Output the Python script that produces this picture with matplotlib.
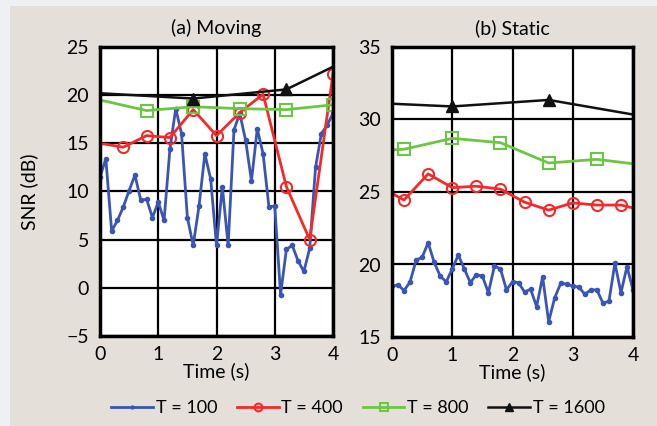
import numpy as np
import matplotlib
matplotlib.use("Agg")
import matplotlib.pyplot as plt
from matplotlib.patches import Rectangle

plt.rcParams['font.family'] = ['Lato', 'DejaVu Sans']

# ---- data ----
t100 = np.round(np.arange(41) * 0.1, 2)

moving_100 = [11.5, 13.4, 5.9, 7.0, 8.4, 10.1, 11.7, 9.1, 9.2, 7.3,
              8.9, 7.0, 14.4, 18.6, 16.0, 7.3, 4.4, 8.5, 13.9, 11.3,
              4.4, 10.5, 4.4, 16.4, 18.1, 15.3, 11.1, 16.5, 13.9, 8.4,
              8.5, -0.7, 4.0, 4.4, 2.8, 1.7, 4.1, 12.5, 16.0, 16.9, 18.1]
moving_400_t = [0, 0.4, 0.8, 1.2, 1.6, 2.0, 2.4, 2.8, 3.2, 3.6, 4.0]
moving_400 = [15.0, 14.6, 15.8, 15.6, 18.5, 15.8, 18.2, 20.1, 10.5, 5.0, 22.2]
moving_800_t = [0, 0.8, 1.6, 2.4, 3.2, 4.0]
moving_800 = [19.5, 18.4, 18.8, 18.6, 18.5, 19.0]
moving_1600_t = [0, 1.6, 3.2, 4.8]
moving_1600 = [20.2, 19.65, 20.6, 25.3]

static_100 = [18.5, 18.6, 18.2, 18.8, 20.3, 20.5, 21.5, 20.15, 19.2, 18.8,
              19.7, 20.65, 19.7, 18.75, 19.3, 19.2, 18.05, 19.9, 19.7, 18.25,
              18.8, 18.75, 18.1, 18.3, 17.1, 19.15, 16.05, 17.7, 18.7, 18.65,
              18.5, 18.45, 17.95, 18.25, 18.25, 17.35, 17.45, 20.1, 18.05, 19.85, 18.25]
static_400_t = [-0.2, 0.2, 0.6, 1.0, 1.4, 1.8, 2.2, 2.6, 3.0, 3.4, 3.8, 4.2]
static_400 = [25.35, 24.45, 26.25, 25.3, 25.4, 25.2, 24.3, 23.75, 24.25, 24.1, 24.1, 23.7]
static_800_t = [-0.6, 0.2, 1.0, 1.8, 2.6, 3.4, 4.2]
static_800 = [27.75, 27.95, 28.7, 28.4, 27.0, 27.25, 26.85]
static_1600_t = [-0.6, 1.0, 2.6, 4.2]
static_1600 = [31.2, 30.9, 31.35, 30.2]

labels = ["T = 100", "T = 400", "T = 800", "T = 1600"]
colors = ["#3a55b4", "#f42a2a", "#6cc644", "#111111"]

fig = plt.figure(figsize=(6.57, 4.26), dpi=100, facecolor="#eef0f3")
bg = Rectangle((10 / 657, 0), 1, 1 - 6 / 426, transform=fig.transFigure,
               facecolor="#e4e0d9", edgecolor="none", zorder=-10)
fig.add_artist(bg)

ax1 = fig.add_axes([100 / 657, 90 / 426, 233 / 657, 289 / 426])
ax2 = fig.add_axes([392 / 657, 89 / 426, 241 / 657, 290 / 426])


def draw(ax, s100, t400, s400, t800, s800, t1600, s1600):
    # first point of the sparse series sits on/left of the axis: no marker
    skip = slice(1, None)
    h = []
    h += ax.plot(t100, s100, color=colors[0], lw=2, marker="o", ms=3,
                 label=labels[0])
    h += ax.plot(t400, s400, color=colors[1], lw=2, marker="o", ms=8,
                 mfc="none", mew=1.5, markevery=skip, label=labels[1])
    h += ax.plot(t800, s800, color=colors[2], lw=2, marker="s", ms=8,
                 mfc="none", mew=1.5, markevery=skip, label=labels[2])
    h += ax.plot(t1600, s1600, color=colors[3], lw=1.8, marker="^", ms=8,
                 markevery=skip, label=labels[3])
    ax.set_xlim(0, 4)
    ax.set_xticks([0, 1, 2, 3, 4])
    ax.grid(True, color="black", lw=1.6)
    ax.set_axisbelow(True)
    ax.tick_params(length=0, labelsize=14)
    ax.tick_params(axis="x", pad=7)
    ax.tick_params(axis="y", pad=8)
    for s in ax.spines.values():
        s.set_linewidth(2.5)
    ax.set_xlabel("Time (s)", fontsize=14, labelpad=0)
    return h


h = draw(ax1, moving_100, moving_400_t, moving_400, moving_800_t, moving_800,
         moving_1600_t, moving_1600)
ax1.set_ylim(-5, 25)
ax1.set_yticks(np.arange(-5, 26, 5))
ax1.set_yticklabels(["\u22125" if v < 0 else str(v) for v in range(-5, 26, 5)])
ax1.set_ylabel("SNR (dB)", fontsize=14, labelpad=20)
ax1.set_title("(a) Moving", fontsize=14, pad=9)

draw(ax2, static_100, static_400_t, static_400, static_800_t, static_800,
     static_1600_t, static_1600)
ax2.set_ylim(15, 35)
ax2.set_yticks(np.arange(15, 36, 5))
ax2.set_title("(b) Static", fontsize=14, pad=9)

fig.legend(h, labels, loc="center", bbox_to_anchor=(0.545, 0.042), ncol=4,
           frameon=False, fontsize=13, handlelength=2.3, columnspacing=1.1,
           handletextpad=0.15, markerscale=0.7)

fig.savefig("out.png", dpi=100, facecolor=fig.get_facecolor())
